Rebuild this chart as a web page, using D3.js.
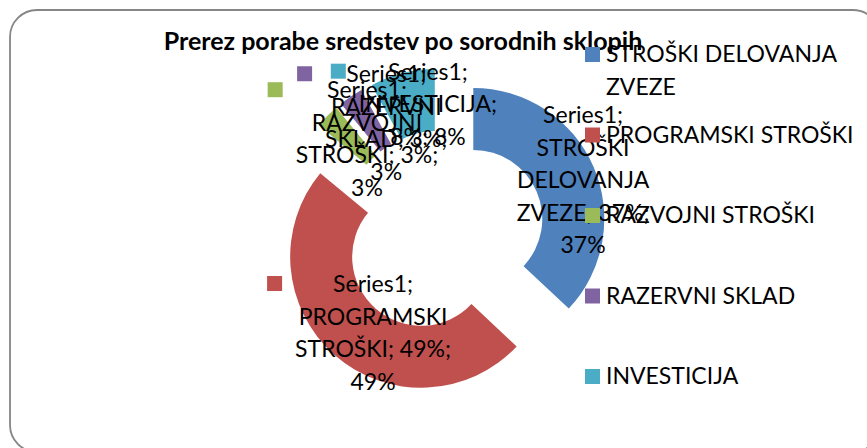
<!DOCTYPE html>
<html>
<head>
<meta charset="utf-8">
<script src="https://cdn.jsdelivr.net/npm/d3@7"></script>
<style>
html,body{margin:0;padding:0;background:#fff;}
svg{display:block;}
text{font-family:Lato,"Open Sans",sans-serif;fill:#000;}
</style>
</head>
<body>
<svg id="chart" width="867" height="448"></svg>
<script>
const title = "Prerez porabe sredstev po sorodnih sklopih";
const seriesName = "Series1";
const categories = ["STROŠKI DELOVANJA ZVEZE","PROGRAMSKI STROŠKI","RAZVOJNI STROŠKI","RAZERVNI SKLAD","INVESTICIJA"];
const values = [37, 49, 3, 3, 8];
const colors = ["#4F81BD","#C0504D","#9BBB59","#8064A2","#4BACC6"];
const legendLines = [["STROŠKI DELOVANJA","ZVEZE"],["PROGRAMSKI STROŠKI"],["RAZVOJNI STROŠKI"],["RAZERVNI SKLAD"],["INVESTICIJA"]];
const labelLines = [
  ["Series1;","STROŠKI","DELOVANJA","ZVEZE; 37%;","37%"],
  ["Series1;","PROGRAMSKI","STROŠKI; 49%;","49%"],
  ["Series1;","RAZVOJNI","STROŠKI; 3%;","3%"],
  ["Series1;","RAZERVNI","SKLAD; 3%;","3%"],
  ["Series1;","INVESTICIJA;","8%; 8%"]
];

const svg = d3.select("#chart");

// frame
svg.append("rect").attr("x",10).attr("y",10).attr("width",870).attr("height",442)
  .attr("rx",27).attr("ry",27).attr("fill","#fff").attr("stroke","#868686").attr("stroke-width",1.8);

// title
svg.append("text").attr("x",403).attr("y",50).attr("text-anchor","middle")
  .attr("font-weight","bold").attr("font-size",25).text(title);

const cx = 443, cy = 232, rOuter = 131, rInner = 69, explode = 33;
const fs = 23, lh = 32.5;

const pie = d3.pie().sort(null).value(d => d)(values);
const arc = d3.arc().innerRadius(rInner).outerRadius(rOuter);

const g = svg.append("g").attr("transform",`translate(${cx},${cy})`);

pie.forEach((p,i) => {
  const mid = (p.startAngle + p.endAngle)/2;
  const dx = Math.sin(mid)*explode, dy = -Math.cos(mid)*explode;
  g.append("path").attr("d",arc(p)).attr("fill",colors[i])
    .attr("transform",`translate(${dx},${dy})`);
});

// data labels
pie.forEach((p,i) => {
  const mid = (p.startAngle + p.endAngle)/2;
  const dx = Math.sin(mid)*explode, dy = -Math.cos(mid)*explode;
  const c = arc.centroid(p);
  const tx = c[0] + dx + 18, ty = c[1] + dy + 9;
  const lines = labelLines[i];
  const y0 = ty - (lines.length-1)*lh/2;
  const lg = g.append("g");
  let maxW = 0;
  lines.forEach((ln,k) => {
    const t = lg.append("text").attr("x",tx).attr("y",y0+k*lh).attr("text-anchor","middle")
      .attr("font-size",fs).text(ln);
    maxW = Math.max(maxW, t.node().getComputedTextLength());
  });
  lg.insert("rect","text").attr("x",tx - maxW/2 - 28).attr("y",y0-16).attr("width",15).attr("height",15)
    .attr("fill",colors[i]);
});

// legend
const legY = d3.scalePoint().domain(categories).range([62,384]);
const leg = svg.append("g");
categories.forEach((c,i) => {
  const y = legY(c);
  leg.append("rect").attr("x",585).attr("y",y-15).attr("width",15).attr("height",15).attr("fill",colors[i]);
  legendLines[i].forEach((ln,k) => {
    leg.append("text").attr("x",606).attr("y",y + k*33).attr("font-size",fs).text(ln);
  });
});
</script>
</body>
</html>
